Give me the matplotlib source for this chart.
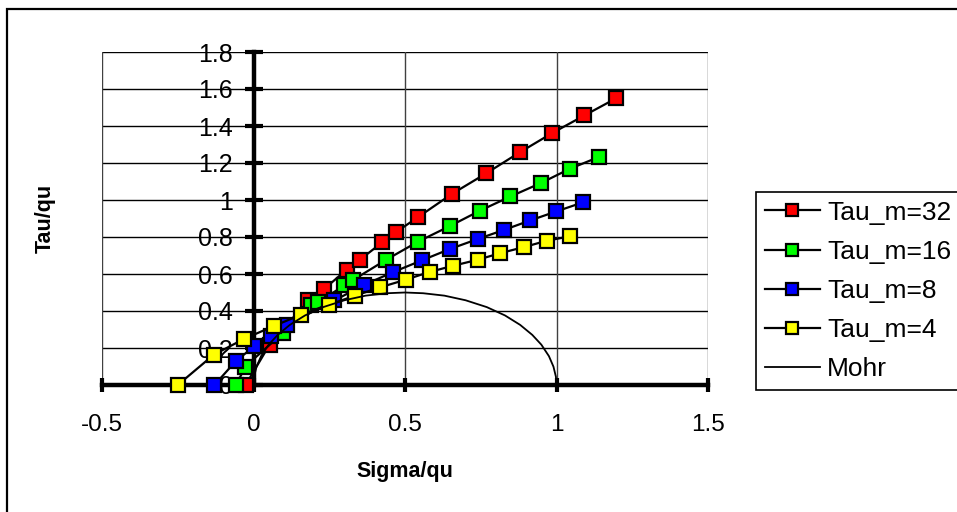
import matplotlib
matplotlib.use("Agg")
import matplotlib.pyplot as plt
from matplotlib.patches import Rectangle

plt.rcParams['font.family'] = ['Liberation Sans', 'DejaVu Sans']

# ---- data ----
red_x = [-0.026, 0.053, 0.18, 0.232, 0.307, 0.351, 0.425, 0.469, 0.542, 0.654, 0.768, 0.878, 0.986, 1.092, 1.196]
red_y = [0.0, 0.218, 0.457, 0.517, 0.623, 0.677, 0.771, 0.825, 0.906, 1.032, 1.144, 1.257, 1.362, 1.457, 1.549]

green_x = [-0.057, -0.027, 0.097, 0.19, 0.212, 0.30, 0.33, 0.438, 0.542, 0.648, 0.747, 0.848, 0.949, 1.043, 1.139]
green_y = [0.0, 0.1, 0.281, 0.43, 0.447, 0.538, 0.569, 0.677, 0.774, 0.859, 0.942, 1.019, 1.092, 1.168, 1.232]

blue_x = [-0.129, -0.059, 0.002, 0.057, 0.112, 0.267, 0.366, 0.462, 0.556, 0.648, 0.74, 0.828, 0.914, 0.999, 1.087]
blue_y = [0.0, 0.128, 0.209, 0.266, 0.326, 0.457, 0.542, 0.611, 0.674, 0.735, 0.789, 0.839, 0.89, 0.938, 0.987]

yellow_x = [-0.25, -0.131, -0.030, 0.069, 0.157, 0.248, 0.336, 0.418, 0.502, 0.581, 0.66, 0.74, 0.815, 0.894, 0.968, 1.043]
yellow_y = [0.0, 0.164, 0.25, 0.32, 0.38, 0.434, 0.483, 0.528, 0.569, 0.611, 0.645, 0.677, 0.713, 0.746, 0.78, 0.803]

mohr_x = [0.0, 0.002, 0.01, 0.025, 0.05, 0.08, 0.12, 0.17, 0.23, 0.3, 0.37, 0.44, 0.5,
          0.56, 0.63, 0.7, 0.77, 0.83, 0.88, 0.92, 0.95, 0.975, 0.99, 0.998, 1.0]
mohr_y = [0.0, 0.045, 0.099, 0.156, 0.218, 0.271, 0.325, 0.376, 0.421, 0.458, 0.483, 0.496, 0.5,
          0.496, 0.483, 0.458, 0.421, 0.376, 0.325, 0.271, 0.218, 0.156, 0.099, 0.045, 0.0]

series_labels = ["Tau_m=32", "Tau_m=16", "Tau_m=8", "Tau_m=4", "Mohr"]
series_colors = ["#ff0000", "#00ff00", "#0000ff", "#ffff00"]

x_ticks = [-0.5, 0, 0.5, 1, 1.5]
x_tick_labels = ["-0.5", "0", "0.5", "1", "1.5"]
y_ticks = [0, 0.2, 0.4, 0.6, 0.8, 1.0, 1.2, 1.4, 1.6, 1.8]
y_tick_labels = ["0", "0.2", "0.4", "0.6", "0.8", "1", "1.2", "1.4", "1.6", "1.8"]

W, H = 957, 512
fig = plt.figure(figsize=(W / 100, H / 100), dpi=100)
ax = fig.add_axes([102 / W, 1 - 385 / H, (708 - 102) / W, (385 - 52) / H])

# gridlines / plot-area border
for yv in y_ticks[1:]:
    ax.axhline(yv, color="black", lw=1.0, zorder=0)
for xv in [-0.5, 0.5, 1.0, 1.5]:
    ax.axvline(xv, color="#404040", lw=1.0, zorder=0)

all_x = [red_x, green_x, blue_x, yellow_x]
all_y = [red_y, green_y, blue_y, yellow_y]
for xs, ys, c, lab in zip(all_x, all_y, series_colors, series_labels[:4]):
    ax.plot(xs, ys, color="black", lw=1.6, marker="s", markersize=9.8,
            markerfacecolor=c, markeredgecolor="black", markeredgewidth=1.6,
            label=lab, zorder=3, clip_on=False)
ax.plot(mohr_x, mohr_y, color="black", lw=1.3, label=series_labels[4], zorder=4)

ax.set_xlim(-0.5, 1.5)
ax.set_ylim(0, 1.8)

ax.spines["top"].set_visible(False)
ax.spines["right"].set_visible(False)
ax.spines["left"].set_position(("data", 0))
ax.spines["left"].set_linewidth(3.2)
ax.spines["bottom"].set_linewidth(3.2)
ax.spines["left"].set_zorder(2)
ax.spines["bottom"].set_zorder(2)

ax.set_xticks(x_ticks)
ax.set_xticklabels(x_tick_labels)
ax.set_yticks(y_ticks)
ax.set_yticklabels(y_tick_labels)
ax.tick_params(axis="x", direction="inout", length=10, width=3, pad=16, labelsize=17.5)
ax.tick_params(axis="y", direction="inout", length=13, width=3, pad=8.5, labelsize=18)

fig.text(405 / W, 1 - 472 / H, "Sigma/qu", ha="center", va="center", fontsize=15.5, fontweight="bold")
fig.text(45 / W, 1 - 218 / H, "Tau/qu", ha="center", va="center", rotation=90, fontsize=15.5, fontweight="bold")

leg = fig.legend(loc="upper left", bbox_to_anchor=(756 / W, 1 - 192 / H), bbox_transform=fig.transFigure,
                 borderaxespad=0, fontsize=19, handlelength=2.1, handletextpad=0.27,
                 labelspacing=0.57, borderpad=0.33, fancybox=False, framealpha=1,
                 edgecolor="black")
leg.get_frame().set_linewidth(1.2)
for h in leg.legend_handles[:4]:
    h.set_markersize(9)

# outer chart border
fig.patches.append(Rectangle((7 / W, -0.05), 1.2, 1 - 9 / H + 0.05, transform=fig.transFigure,
                             fill=False, edgecolor="black", lw=1.6))

fig.savefig("out.png", dpi=100)
